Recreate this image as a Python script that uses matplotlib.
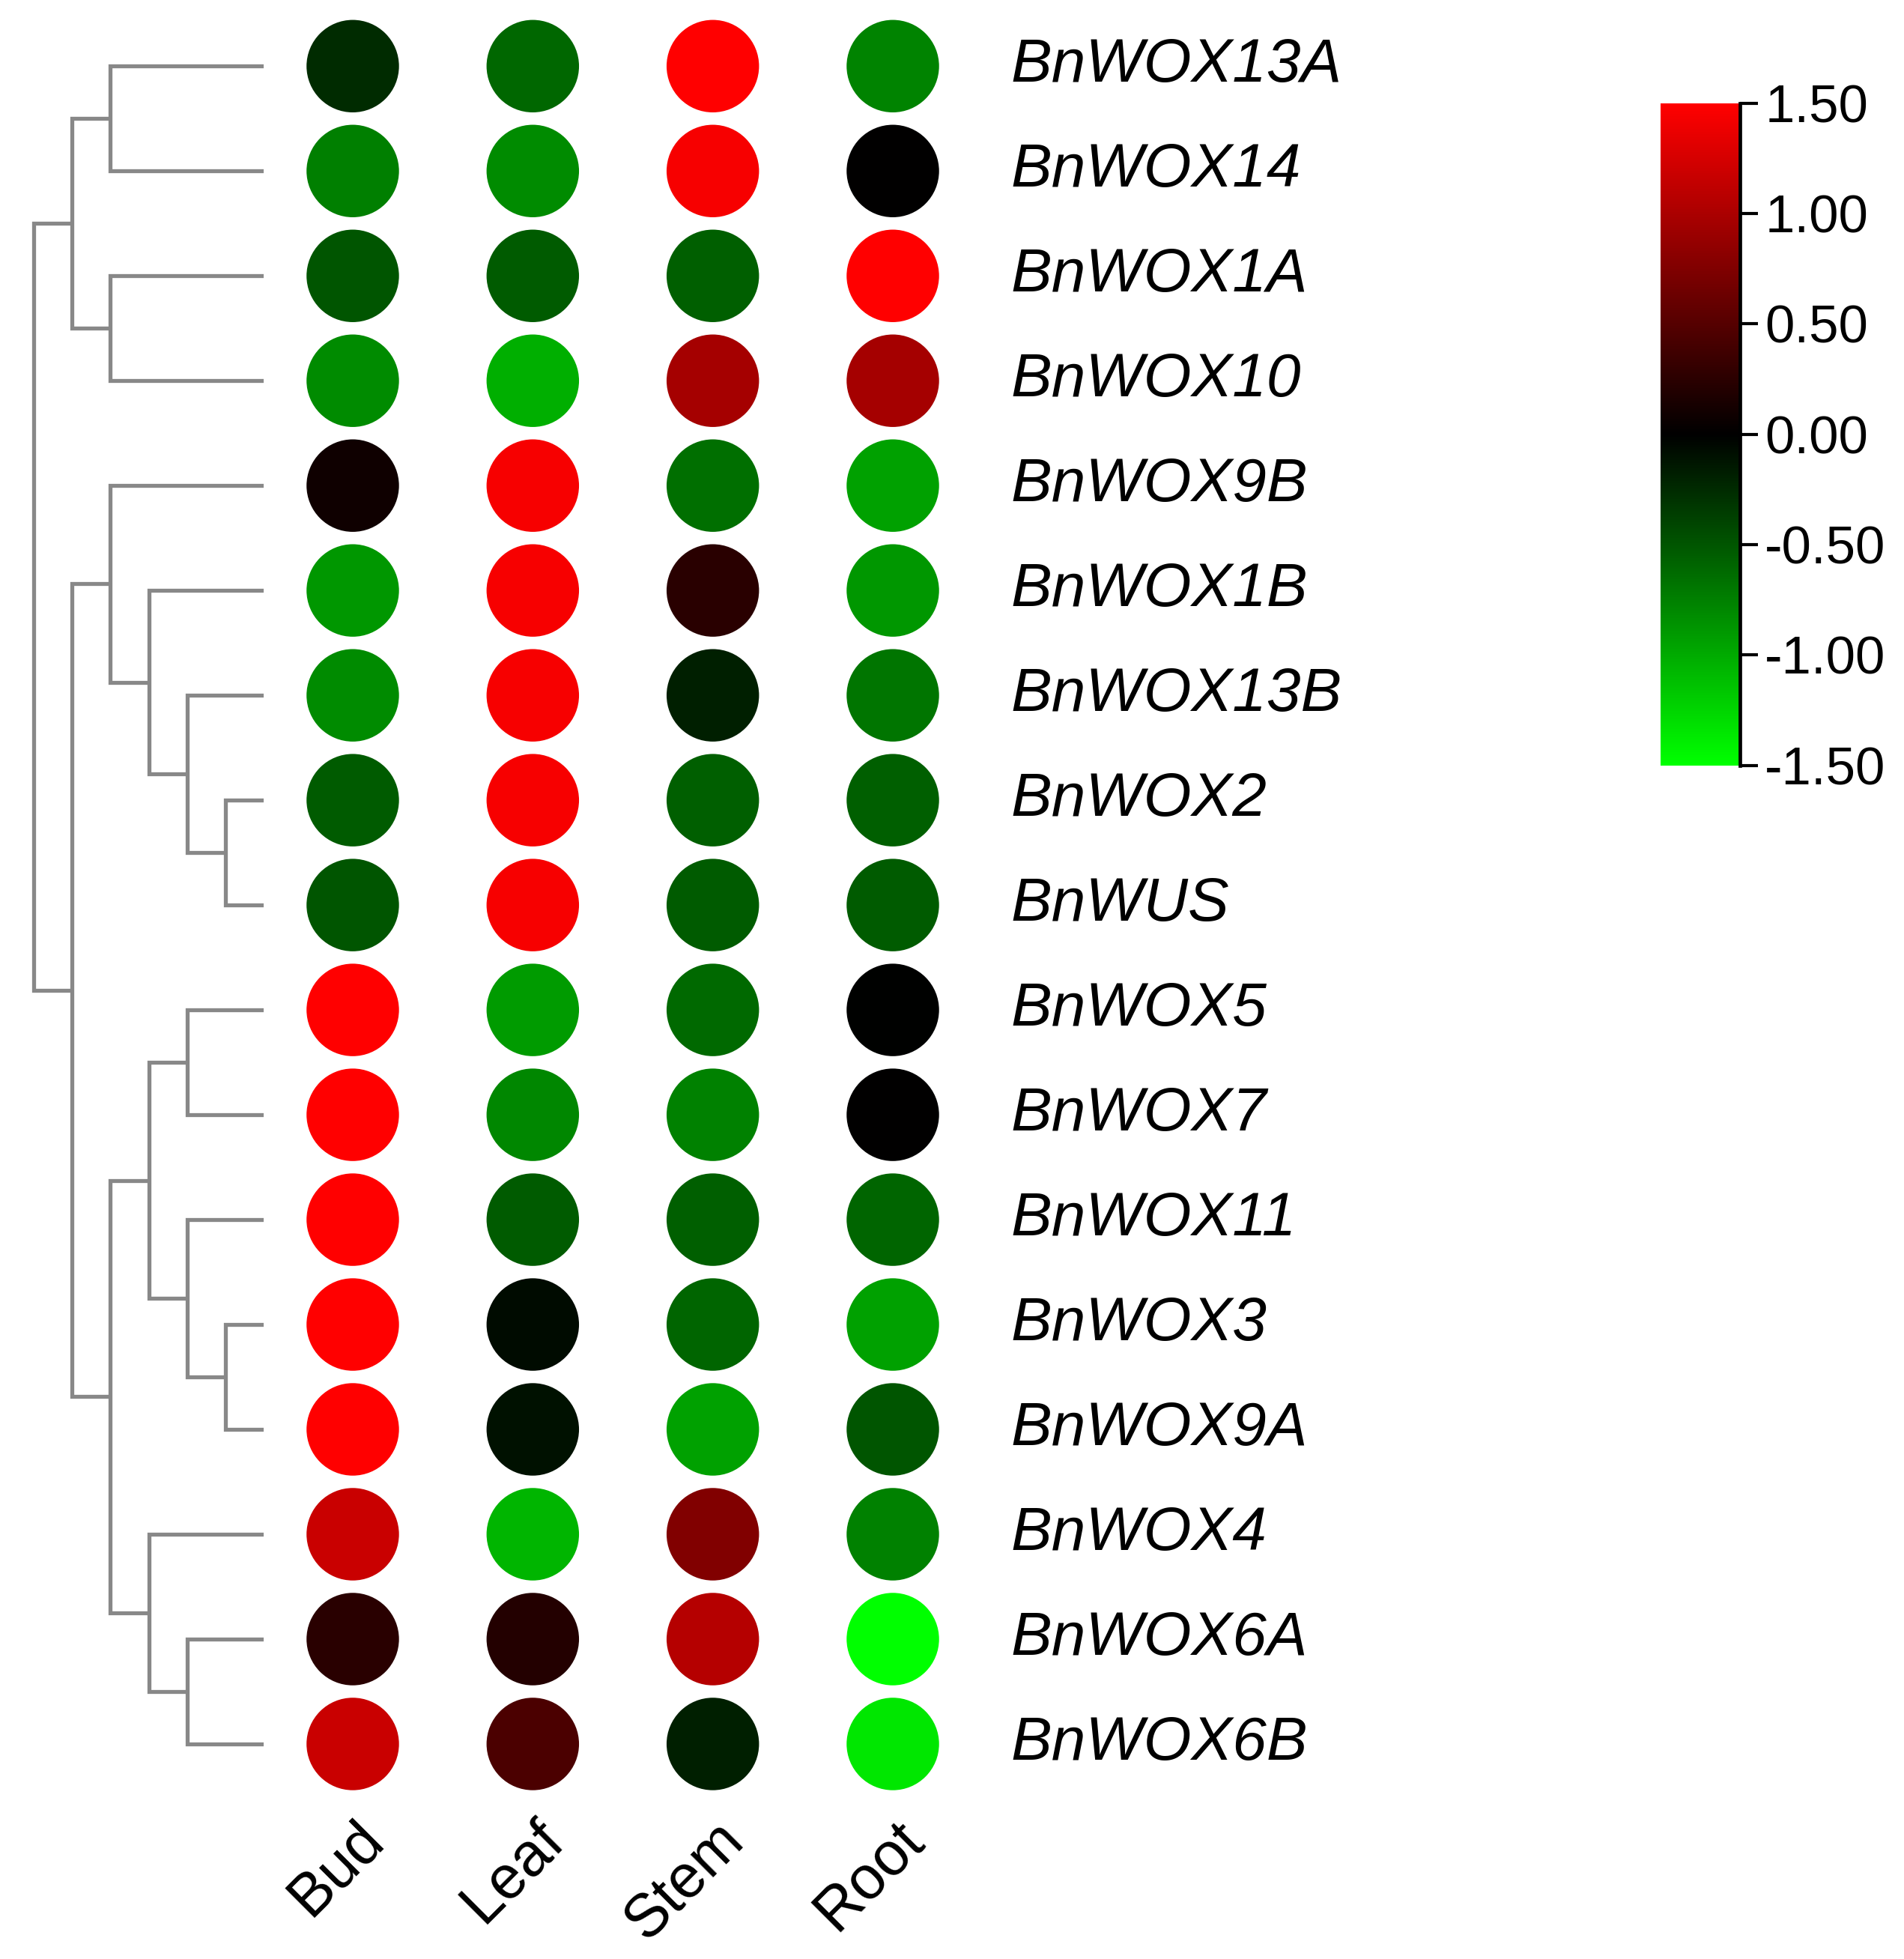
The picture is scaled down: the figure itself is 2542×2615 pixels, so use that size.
import numpy as np
import matplotlib
matplotlib.use('Agg')
import matplotlib.pyplot as plt
from matplotlib.colors import LinearSegmentedColormap, Normalize
from matplotlib.cm import ScalarMappable

plt.rcParams['font.family'] = ['Liberation Sans', 'DejaVu Sans']
plt.rcParams['axes.unicode_minus'] = False

# gene names, top to bottom
genes = ['BnWOX13A', 'BnWOX14', 'BnWOX1A', 'BnWOX10', 'BnWOX9B', 'BnWOX1B',
         'BnWOX13B', 'BnWOX2', 'BnWUS', 'BnWOX5', 'BnWOX7', 'BnWOX11',
         'BnWOX3', 'BnWOX9A', 'BnWOX4', 'BnWOX6A', 'BnWOX6B']
tissues = ['Bud', 'Leaf', 'Stem', 'Root']

bud_vals = [-0.25, -0.74, -0.50, -0.82, 0.09, -0.88, -0.82, -0.53, -0.50,
            1.50, 1.50, 1.50, 1.50, 1.50, 1.18, 0.24, 1.18]
leaf_vals = [-0.60, -0.82, -0.53, -1.03, 1.45, 1.45, 1.45, 1.45, 1.45,
             -0.91, -0.79, -0.53, -0.06, -0.10, -1.06, 0.20, 0.44]
stem_vals = [1.50, 1.45, -0.56, 0.97, -0.65, 0.24, -0.18, -0.56, -0.53,
             -0.62, -0.76, -0.56, -0.59, -0.94, 0.76, 1.06, -0.18]
root_vals = [-0.77, 0.00, 1.50, 0.97, -0.94, -0.88, -0.68, -0.56, -0.53,
             -0.01, 0.00, -0.59, -0.94, -0.50, -0.76, -1.50, -1.35]

# dendrogram merges: (child a, child b, height); new cluster ids start at 17
merges = [(0, 1, 4), (2, 3, 4), (17, 18, 5),
          (7, 8, 1), (6, 20, 2), (5, 21, 3), (4, 22, 4),
          (9, 10, 2), (12, 13, 1), (11, 25, 2), (24, 26, 3),
          (15, 16, 2), (14, 28, 3), (27, 29, 4),
          (23, 30, 5), (19, 31, 6)]

cbar_ticks = [-1.5, -1.0, -0.5, 0.0, 0.5, 1.0, 1.5]

cmap = LinearSegmentedColormap.from_list('gkr', ['#00ff00', '#000000', '#ff0000'])
norm = Normalize(vmin=-1.5, vmax=1.5)

fig = plt.figure(figsize=(25.42, 26.15), dpi=100)

# main dot heatmap
ax_box = [0.1380, 0.0830, 0.3782, 0.910]
ax = fig.add_axes(ax_box)
data = np.array([bud_vals, leaf_vals, stem_vals, root_vals])
n_rows = len(genes)
for j in range(len(tissues)):
    ax.scatter([j] * n_rows, np.arange(n_rows), c=data[j], cmap=cmap, norm=norm,
               s=7900, edgecolors='none')
ax.set_xlim(-0.5, 3.5)
ax.set_ylim(n_rows - 0.5, -0.5)
ax.axis('off')

for i, g in enumerate(genes):
    ax.text(3.655, i, g, va='center', ha='left', style='italic', fontsize=59)

for j, t in enumerate(tissues):
    ax.text(j + 0.12, 16.83, t, rotation=45, rotation_mode='anchor',
            ha='right', va='center', fontsize=58, clip_on=False)

# dendrogram on the left
dax = fig.add_axes([0.0, ax_box[1], 212 / 1530.0, ax_box[3]])
pos = {i: (float(i), 0.0) for i in range(n_rows)}
lc = '#888888'
for k, (a, b, h) in enumerate(merges):
    ya, ha = pos[a]
    yb, hb = pos[b]
    dax.plot([ha, h, h, hb], [ya, ya, yb, yb], color=lc, lw=3.8,
             solid_joinstyle='miter', solid_capstyle='butt')
    pos[n_rows + k] = ((ya + yb) / 2.0, h)
dax.set_xlim(6.88, 0)
dax.set_ylim(n_rows - 0.5, -0.5)
dax.axis('off')

# colour bar
cax = fig.add_axes([0.872, 0.6093, 0.0418, 0.338])
sm = ScalarMappable(norm=norm, cmap=cmap)
cb = fig.colorbar(sm, cax=cax, ticks=cbar_ticks, format='%.2f')
cb.outline.set_visible(False)
cax.axvline(1, color='k', lw=3.4, clip_on=False)
cax.tick_params(axis='y', length=17, width=3.0, pad=7, labelsize=51, direction='out')

fig.savefig('out.png', dpi=100)
